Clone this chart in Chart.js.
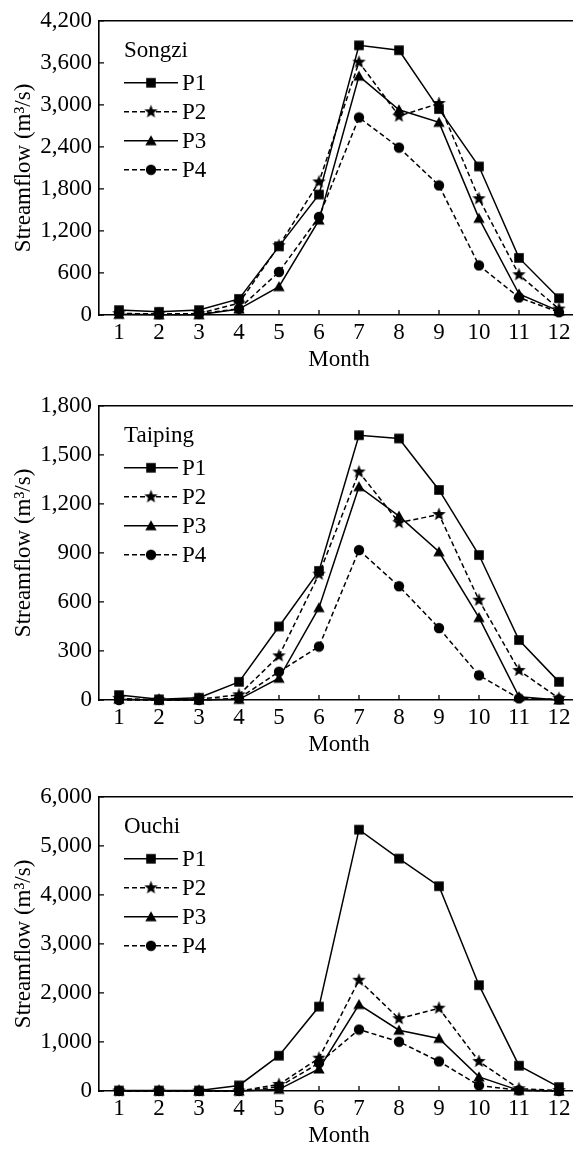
<!DOCTYPE html>
<html>
<head>
<meta charset="utf-8">
<title>Streamflow by month</title>
<script src="https://cdn.jsdelivr.net/npm/chart.js@4.4.1/dist/chart.umd.min.js"></script>
<style>
  html, body { margin: 0; padding: 0; background: #fff; overflow: hidden; }
  #page { position: relative; width: 573px; height: 1149px; overflow: hidden; }
  canvas { position: absolute; left: 0; }
</style>
</head>
<body>
<div id="page">
  <canvas id="songzi" width="600" height="377" style="top:0px"></canvas>
  <canvas id="taiping" width="600" height="377" style="top:385px"></canvas>
  <canvas id="ouchi" width="600" height="377" style="top:776px"></canvas>
</div>
<script>
'use strict';

const months = ['1', '2', '3', '4', '5', '6', '7', '8', '9', '10', '11', '12'];
const periods = ['P1', 'P2', 'P3', 'P4'];

// Songzi
const songziP1 = [70, 45, 70, 230, 980, 1720, 3850, 3780, 2940, 2120, 815, 240];
const songziP2 = [20, 15, 20, 170, 990, 1900, 3610, 2840, 3020, 1660, 575, 85];
const songziP3 = [10, 5, 5, 85, 405, 1355, 3410, 2930, 2750, 1380, 300, 55];
const songziP4 = [25, 10, 15, 90, 615, 1400, 2820, 2390, 1850, 708, 250, 40];
const songziTicks = [0, 600, 1200, 1800, 2400, 3000, 3600, 4200];

// Taiping
const taipingP1 = [30, 4, 14, 111, 450, 790, 1620, 1600, 1285, 887, 367, 111];
const taipingP2 = [10, 0, 5, 32, 270, 770, 1395, 1085, 1135, 611, 181, 10];
const taipingP3 = [5, 0, 0, 4, 133, 565, 1305, 1125, 907, 504, 20, 0];
const taipingP4 = [0, 0, 0, 10, 173, 327, 917, 696, 440, 151, 10, 4];
const taipingTicks = [0, 300, 600, 900, 1200, 1500, 1800];

// Ouchi
const ouchiP1 = [10, 10, 10, 114, 720, 1722, 5330, 4740, 4176, 2158, 516, 80];
const ouchiP2 = [0, 0, 0, 0, 134, 670, 2259, 1475, 1689, 603, 47, 10];
const ouchiP3 = [0, 0, 0, 0, 34, 449, 1763, 1240, 1072, 288, 13, 0];
const ouchiP4 = [0, 0, 0, 0, 87, 570, 1253, 1005, 603, 114, 13, 0];
const ouchiTicks = [0, 1000, 2000, 3000, 4000, 5000, 6000];

const FONT = '"Liberation Serif", "Times New Roman", serif';
Chart.defaults.font.family = FONT;
Chart.defaults.font.size = 23;
Chart.defaults.color = '#000';

// little black markers: square, star, triangle, circle
function makeMarker(kind) {
  const c = document.createElement('canvas');
  const s = kind === 'star' ? 15 : 12;
  c.width = s; c.height = s;
  const g = c.getContext('2d');
  const m = s / 2;
  g.fillStyle = '#000';
  g.beginPath();
  if (kind === 'square') {
    g.rect(m - 4.8, m - 4.8, 9.6, 9.6);
  } else if (kind === 'star') {
    for (let i = 0; i < 10; i++) {
      const r = i % 2 === 0 ? 7 : 3;
      const a = -Math.PI / 2 + i * Math.PI / 5;
      g.lineTo(m + r * Math.cos(a), m + r * Math.sin(a));
    }
    g.closePath();
  } else if (kind === 'triangle') {
    g.moveTo(m, 0.5);
    g.lineTo(s - 0.3, s - 1.5);
    g.lineTo(0.3, s - 1.5);
    g.closePath();
  } else {
    g.arc(m, m, 5.2, 0, Math.PI * 2);
  }
  g.fill();
  return c;
}

const markers = [makeMarker('square'), makeMarker('star'), makeMarker('triangle'), makeMarker('circle')];
const dashes = [[], [5, 3], [], [5, 3]];

// top line of the box + small inward tick marks
const framePlugin = {
  id: 'frame',
  afterDraw(chart) {
    const { ctx, chartArea: a, scales } = chart;
    const x = scales.x, y = scales.y;
    ctx.save();
    ctx.strokeStyle = '#000';
    ctx.lineWidth = 1.6;
    ctx.beginPath();
    ctx.moveTo(a.left, a.top);
    ctx.lineTo(a.right, a.top);
    ctx.stroke();
    ctx.lineWidth = 1.3;
    ctx.beginPath();
    x.ticks.forEach((t, i) => {
      const px = x.getPixelForTick(i);
      ctx.moveTo(px, a.bottom);
      ctx.lineTo(px, a.bottom - 5);
    });
    y.ticks.forEach(t => {
      const py = y.getPixelForValue(t.value);
      ctx.moveTo(a.left, py);
      ctx.lineTo(a.left + 5, py);
    });
    ctx.stroke();
    ctx.restore();
  }
};

// station name + legend in the upper left corner
const keyPlugin = {
  id: 'key',
  afterDraw(chart, args, opts) {
    const { ctx, chartArea: a } = chart;
    ctx.save();
    ctx.fillStyle = '#000';
    ctx.font = '23px ' + FONT;
    ctx.textBaseline = 'middle';
    ctx.fillText(opts.title, 124, a.top + 30);
    chart.data.datasets.forEach((ds, i) => {
      const yy = a.top + 62 + i * 29;
      ctx.strokeStyle = '#000';
      ctx.lineWidth = 1.5;
      ctx.setLineDash(ds.borderDash);
      ctx.beginPath();
      ctx.moveTo(124, yy);
      ctx.lineTo(178, yy);
      ctx.stroke();
      ctx.setLineDash([]);
      const m = ds.pointStyle;
      ctx.drawImage(m, 151 - m.width / 2, yy - m.height / 2);
      ctx.fillText(ds.label, 182, yy + 1);
    });
    ctx.restore();
  }
};

function makeChart(id, name, series, yTicks) {
  new Chart(document.getElementById(id), {
    type: 'line',
    data: {
      labels: months,
      datasets: series.map((vals, i) => ({
        label: periods[i],
        data: vals,
        borderColor: '#000',
        backgroundColor: '#000',
        borderWidth: 1.5,
        borderDash: dashes[i],
        pointStyle: markers[i],
        pointRadius: 5,
        tension: 0,
        fill: false,
        clip: false
      }))
    },
    options: {
      responsive: false,
      animation: false,
      layout: { padding: { top: 17, right: 21, left: 0, bottom: 0 } },
      plugins: {
        legend: { display: false },
        tooltip: { enabled: false },
        key: { title: name }
      },
      scales: {
        x: {
          type: 'category',
          offset: true,
          ticks: { padding: 4, maxRotation: 0, autoSkip: false, color: '#000' },
          grid: { display: false, drawTicks: false, offset: true },
          border: { display: true, color: '#000', width: 1.6 },
          title: { display: true, text: 'Month', color: '#000', padding: { top: 0, bottom: 3 } },
          afterFit: s => { s.height = 62; }
        },
        y: {
          min: 0,
          max: yTicks[yTicks.length - 1],
          afterBuildTicks: s => { s.ticks = yTicks.map(v => ({ value: v })); },
          ticks: { padding: 7, color: '#000', callback: v => v.toLocaleString('en-US') },
          grid: { display: false, drawTicks: false },
          border: { display: true, color: '#000', width: 1.6 },
          title: { display: true, text: 'Streamflow (m³/s)', color: '#000', padding: { top: 10, bottom: 0 } },
          afterFit: s => { s.width = 99; }
        }
      }
    },
    plugins: [framePlugin, keyPlugin]
  });
}

makeChart('songzi', 'Songzi', [songziP1, songziP2, songziP3, songziP4], songziTicks);
makeChart('taiping', 'Taiping', [taipingP1, taipingP2, taipingP3, taipingP4], taipingTicks);
makeChart('ouchi', 'Ouchi', [ouchiP1, ouchiP2, ouchiP3, ouchiP4], ouchiTicks);
</script>
</body>
</html>
